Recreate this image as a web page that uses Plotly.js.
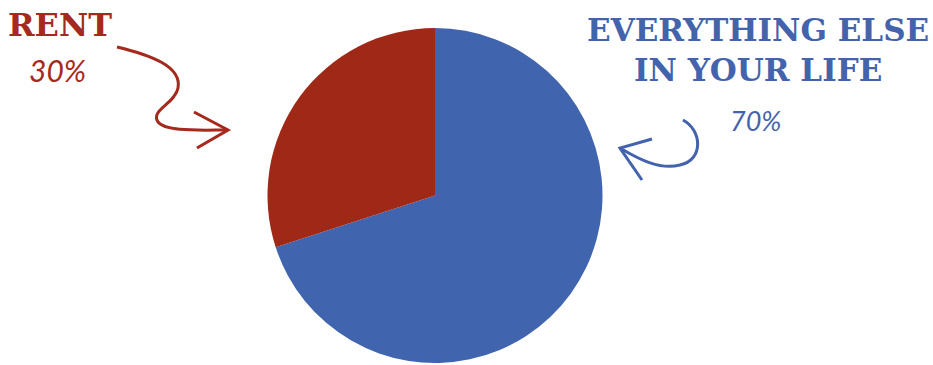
<!DOCTYPE html>
<html>
<head>
<meta charset="utf-8">
<script src="https://cdn.plot.ly/plotly-3.0.1.min.js"></script>
<style>html,body{margin:0;padding:0;background:#fff;}#chart{width:933px;height:365px;}</style>
</head>
<body>
<div id="chart"></div>
<script>
// Data (drawn clockwise from 12 o'clock)
const labels = ["EVERYTHING ELSE IN YOUR LIFE", "RENT"];
const values = [70, 30];
const sliceColors = ["#4164af", "#9f2817"];
const pctLabels = ["70%", "30%"];

const W = 933, H = 365;
const px = x => x / W;
const py = y => 1 - y / H;
function pathFrom(cmds) {
  return cmds.map(c => {
    const out = [];
    for (let i = 1; i < c.length; i += 2) out.push(px(c[i]).toFixed(4) + "," + py(c[i + 1]).toFixed(4));
    return c[0] + out.join(" ");
  }).join(" ");
}

const red = "#a5291c", blue = "#4463ad";

const trace = {
  type: "pie",
  labels: labels,
  values: values,
  sort: false,
  direction: "clockwise",
  rotation: 0,
  marker: { colors: sliceColors, line: { width: 0 } },
  textinfo: "none",
  hoverinfo: "label+percent",
  showlegend: false,
  domain: { x: [px(435 - 168), px(435 + 168)], y: [1 - 363 / H, 1 - 28 / H] }
};

const slab = "DejaVu Serif";
const layout = {
  width: W, height: H,
  margin: { l: 0, r: 0, t: 0, b: 0 },
  paper_bgcolor: "#ffffff",
  showlegend: false,
  annotations: [
    { text: "<b>RENT</b>", x: px(60), y: py(25), xref: "paper", yref: "paper", xanchor: "center", yanchor: "middle", showarrow: false,
      font: { family: slab, size: 32, color: red } },
    { text: "<i>" + pctLabels[1] + "</i>", x: px(57), y: py(70), xref: "paper", yref: "paper", xanchor: "center", yanchor: "middle", showarrow: false,
      font: { family: "Lato", size: 30, color: red } },
    { text: "<b>EVERYTHING ELSE</b>", x: px(758), y: py(30), xref: "paper", yref: "paper", xanchor: "center", yanchor: "middle", showarrow: false,
      font: { family: slab, size: 31, color: blue } },
    { text: "<b>IN YOUR LIFE</b>", x: px(758), y: py(70), xref: "paper", yref: "paper", xanchor: "center", yanchor: "middle", showarrow: false,
      font: { family: slab, size: 31, color: blue } },
    { text: "<i>" + pctLabels[0] + "</i>", x: px(755), y: py(120), xref: "paper", yref: "paper", xanchor: "center", yanchor: "middle", showarrow: false,
      font: { family: "Lato", size: 27, color: blue } }
  ],
  shapes: [
    { type: "path", xref: "paper", yref: "paper",
      path: pathFrom([["M", 117, 47], ["C", 150, 55, 182, 66, 178, 88], ["C", 175, 104, 150, 110, 158, 122], ["C", 165, 132, 200, 130, 228, 130]]),
      line: { color: red, width: 3 } },
    { type: "path", xref: "paper", yref: "paper",
      path: pathFrom([["M", 194, 112], ["L", 228, 130], ["L", 197, 148]]),
      line: { color: red, width: 3 } },
    { type: "path", xref: "paper", yref: "paper",
      path: pathFrom([["M", 683, 120], ["C", 702, 130, 704, 160, 680, 165], ["C", 660, 170, 640, 160, 620, 148]]),
      line: { color: blue, width: 3 } },
    { type: "path", xref: "paper", yref: "paper",
      path: pathFrom([["M", 652, 139], ["L", 620, 148], ["L", 642, 180]]),
      line: { color: blue, width: 3 } }
  ]
};

Plotly.newPlot("chart", [trace], layout, { displayModeBar: false, staticPlot: true });
</script>
</body>
</html>
